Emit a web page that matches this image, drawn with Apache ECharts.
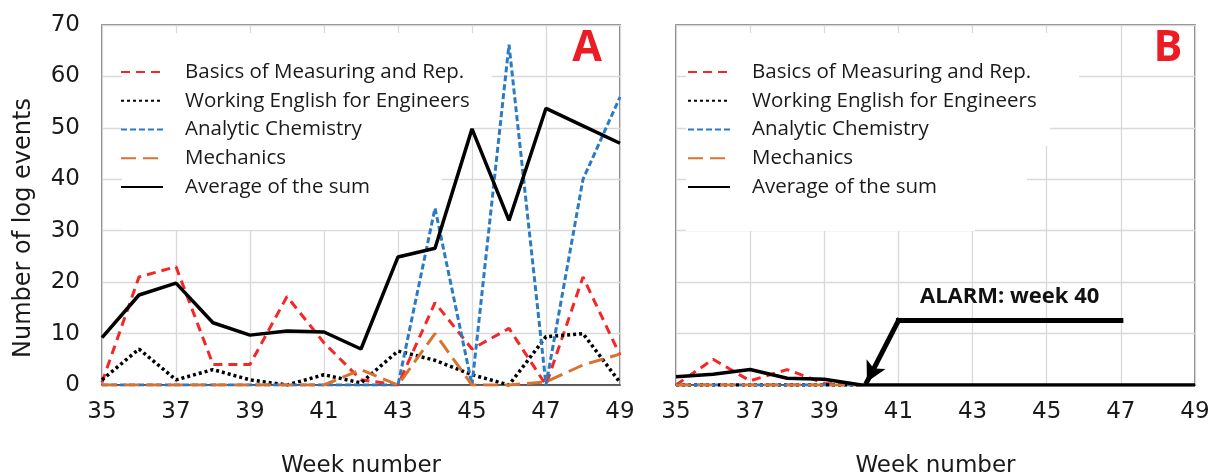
<!DOCTYPE html>
<html>
<head>
<meta charset="utf-8">
<script src="https://cdn.jsdelivr.net/npm/echarts@6/dist/echarts.min.js"></script>
<style>html,body{margin:0;padding:0;background:#fff;}#c{width:1210px;height:476px;}</style>
</head>
<body>
<div id="c"></div>
<script>
// ---- data ----
const weeks = [35, 36, 37, 38, 39, 40, 41, 42, 43, 44, 45, 46, 47, 48, 49];
const xTicks = [35, 37, 39, 41, 43, 45, 47, 49];
const yTicks = [0, 10, 20, 30, 40, 50, 60, 70];
const seriesNames = ['Basics of Measuring and Rep.', 'Working English for Engineers', 'Analytic Chemistry', 'Mechanics', 'Average of the sum'];

// Panel A
const basicsA  = [0.5, 21, 23, 4, 4, 17.2, 8.2, 1, 0, 16, 7, 11, 0, 21, 5.8];
const workingA = [1, 7, 1, 3, 1, 0, 2, 0.4, 6.6, 4.8, 2, 0, 9.4, 10, 0.5];
const chemA    = [0, 0, 0, 0, 0, 0, 0, 0, 0, 34.4, 0, 66.2, 0, 40, 56];
const mechA    = [0, 0, 0, 0, 0, 0, 0, 3, 0, 10, 0, 0, 0.6, 3.9, 6];
const avgA     = [9.2, 17.5, 19.8, 12.1, 9.7, 10.5, 10.3, 7, 24.9, 26.6, 49.8, 32, 53.8, 50.4, 47];

// Panel B (courses stop at week 40)
const basicsB  = [0, 5, 0.8, 3, 0.3, 0];
const workingB = [0, 0, 0, 0, 0, 0];
const chemB    = [0, 0, 0, 0, 0, 0];
const mechB    = [0, 0, 0, 0, 0, 0];
const avgB     = [1.6, 2.1, 3.0, 1.3, 1.1, 0, 0, 0, 0, 0, 0, 0, 0, 0, 0];

// Alarm annotation (data coordinates on panel B)
const alarmLabel = 'ALARM: week 40';
const alarmBar   = [[41, 12.5], [47, 12.5]];
const alarmArrow = [[41, 12.5], [40.15, 0.6]];

// ---- build ----
const pairs = arr => arr.map((v, i) => [weeks[i], v]);
const styles = [
  {color: '#f52626', width: 3,   type: [9, 6]},
  {color: '#000000', width: 3.5, type: [3, 3]},
  {color: '#2a7ac6', width: 3,   type: [6, 3]},
  {color: '#d9722f', width: 3,   type: [15, 7]},
  {color: '#000000', width: 3.5, type: 'solid'}
];
function mk(name, data, idx, axis) {
  const s = styles[seriesNames.indexOf(name)];
  return {
    name: name, type: 'line', xAxisIndex: axis, yAxisIndex: axis,
    data: pairs(data), symbol: 'none', smooth: false,
    lineStyle: {color: s.color, width: s.width, type: s.type, cap: 'butt'},
    itemStyle: {color: s.color},
    z: 2 + idx * 0.01
  };
}
const dataA = [basicsA, workingA, chemA, mechA, avgA];
const dataB = [basicsB, workingB, chemB, mechB, avgB];
const series = [];
dataA.forEach((d, i) => series.push(mk(seriesNames[i], d, i, 0)));
dataB.forEach((d, i) => series.push(mk(seriesNames[i], d, i, 1)));
series.push({
  name: 'alarm', type: 'line', xAxisIndex: 1, yAxisIndex: 1, data: [], symbol: 'none',
  markLine: {
    silent: true, animation: false,
    symbol: ['none', 'arrow'], symbolSize: [16, 20],
    lineStyle: {color: '#000', width: 5, type: 'solid', cap: 'square'},
    label: {show: false},
    data: [
      [{coord: alarmBar[0], symbol: 'none'}, {coord: alarmBar[1], symbol: 'none',
        label: {show: true, position: 'middle', formatter: alarmLabel, distance: 13,
          fontFamily: 'Open Sans', fontWeight: 'bold', fontSize: 22, color: '#111'}}],
      [{coord: alarmArrow[0]}, {coord: alarmArrow[1]}]
    ]
  }
});

const axisFont = {fontFamily: 'DejaVu Sans', fontSize: 23, color: '#1a1a1a'};
function xAx(i) {
  return {
    type: 'value', gridIndex: i, min: xTicks[0], max: xTicks[xTicks.length - 1], interval: 2,
    axisLabel: Object.assign({margin: 16}, axisFont),
    axisTick: {show: false},
    axisLine: {show: true, lineStyle: {color: '#404040', width: 1.5}},
    splitLine: {show: true, lineStyle: {color: '#d9d9d9', width: 1.3}},
    name: 'Week number', nameLocation: 'middle', nameGap: 70,
    nameTextStyle: {fontFamily: 'DejaVu Sans', fontSize: 23, color: '#1a1a1a'}
  };
}
function yAx(i) {
  const o = {
    type: 'value', gridIndex: i, min: yTicks[0], max: yTicks[yTicks.length - 1], interval: 10,
    axisLabel: Object.assign({show: i === 0, margin: 22}, axisFont),
    axisTick: {show: false},
    axisLine: {show: false},
    splitLine: {show: true, lineStyle: {color: '#d9d9d9', width: 1.3}}
  };
  if (i === 0) {
    o.name = 'Number of log events';
    o.nameLocation = 'middle';
    o.nameGap = 66;
    o.nameTextStyle = {fontFamily: 'DejaVu Sans', fontSize: 24, color: '#1a1a1a', padding: [0, 46, 0, 0]};
  }
  return o;
}
function leg(left) {
  return {
    orient: 'vertical', left: left, top: 61, padding: 0,
    data: seriesNames, itemWidth: 42, itemHeight: 14, itemGap: 6.75,
    selectedMode: false,
    itemStyle: {color: 'rgba(0,0,0,0)', borderColor: 'rgba(0,0,0,0)', borderWidth: 0, opacity: 0},
    textStyle: {fontFamily: 'Open Sans', fontSize: 20.5, lineHeight: 22, color: '#1a1a1a', padding: [0, 0, 0, 17]}
  };
}

const chart = echarts.init(document.getElementById('c'), null, {renderer: 'canvas'});
chart.setOption({
  animation: false,
  backgroundColor: '#ffffff',
  grid: [
    {left: 102, right: 590, top: 25, bottom: 91, show: true, borderColor: '#595959', borderWidth: 1.5, backgroundColor: 'transparent', containLabel: false, outerBoundsMode: 'none'},
    {left: 676, right: 15, top: 25, bottom: 91, show: true, borderColor: '#595959', borderWidth: 1.5, backgroundColor: 'transparent', containLabel: false, outerBoundsMode: 'none'}
  ],
  xAxis: [xAx(0), xAx(1)],
  yAxis: [yAx(0), yAx(1)],
  legend: [leg(120), leg(687)],
  graphic: [
    {type: 'polygon', z: 1, silent: true, shape: {points: [[122,33],[492,33],[492,118],[474,118],[474,132],[442,132],[442,198],[400,198],[400,230],[122,230]]}, style: {fill: '#fff'}},
    {type: 'polygon', z: 1, silent: true, shape: {points: [[686,33],[1079,33],[1079,108],[1050,108],[1050,146],[1027,146],[1027,205],[975,205],[975,231],[686,231]]}, style: {fill: '#fff'}},
    {type: 'text', z: 10, x: 587, y: 49, style: {text: 'A', fill: '#ec1c24', font: 'bold 43px "Open Sans"', textAlign: 'center', textVerticalAlign: 'middle'}},
    {type: 'text', z: 10, x: 1168, y: 49, style: {text: 'B', fill: '#ec1c24', font: 'bold 43px "Open Sans"', textAlign: 'center', textVerticalAlign: 'middle'}}
  ],
  series: series
});
</script>
</body>
</html>
